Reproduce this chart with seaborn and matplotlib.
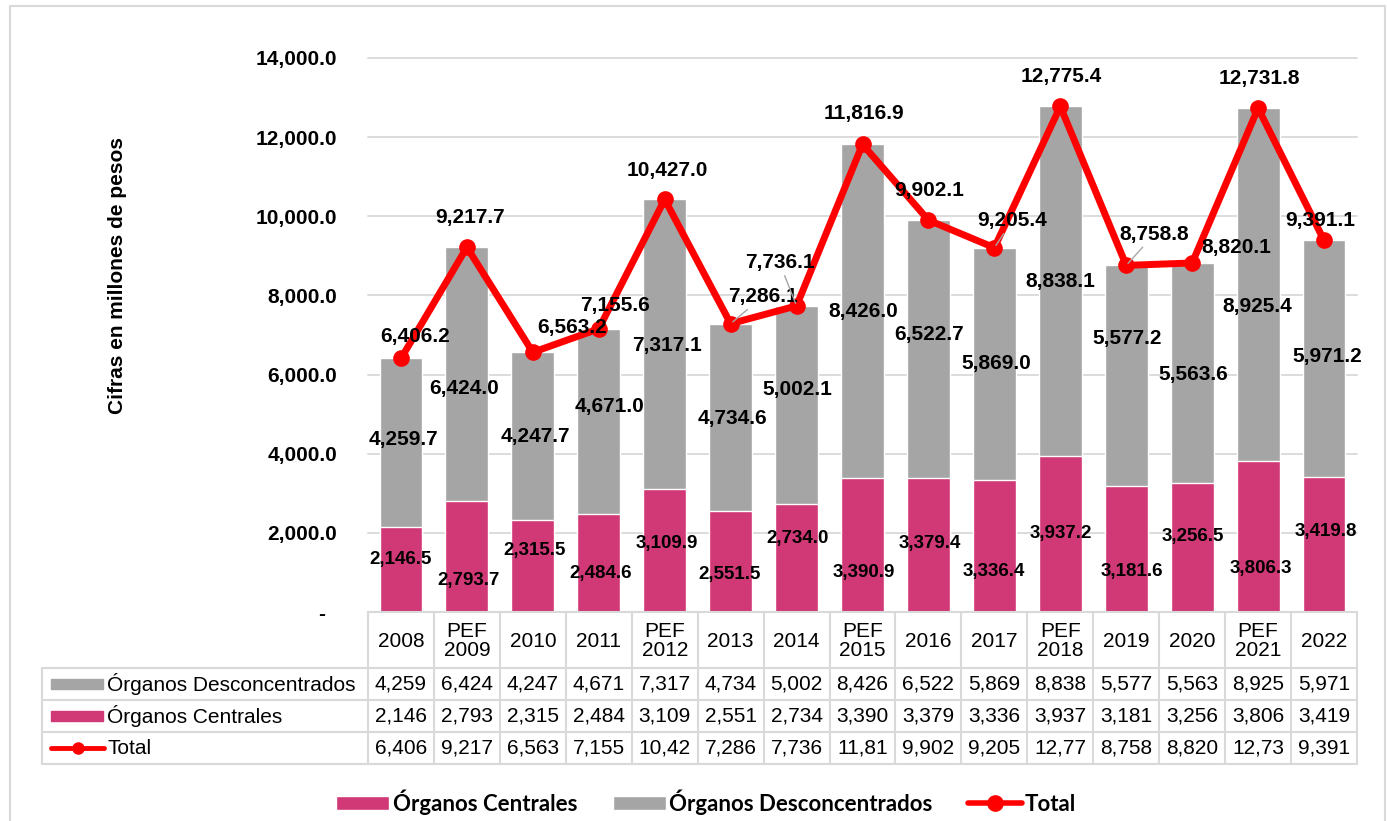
import numpy as np
import pandas as pd
import matplotlib
matplotlib.use("Agg")
import matplotlib.pyplot as plt
import seaborn as sns
from matplotlib.patches import Patch, Rectangle
from matplotlib.lines import Line2D

# data
categories = ["2008", "PEF\n2009", "2010", "2011", "PEF\n2012", "2013", "2014", "PEF\n2015",
              "2016", "2017", "PEF\n2018", "2019", "2020", "PEF\n2021", "2022"]
centrales = [2146.5, 2793.7, 2315.5, 2484.6, 3109.9, 2551.5, 2734.0, 3390.9,
             3379.4, 3336.4, 3937.2, 3181.6, 3256.5, 3806.3, 3419.8]
desconcentrados = [4259.7, 6424.0, 4247.7, 4671.0, 7317.1, 4734.6, 5002.1, 8426.0,
                   6522.7, 5869.0, 8838.1, 5577.2, 5563.6, 8925.4, 5971.2]
total = [6406.2, 9217.7, 6563.2, 7155.6, 10427.0, 7286.1, 7736.1, 11816.9,
         9902.1, 9205.4, 12775.4, 8758.8, 8820.1, 12731.8, 9391.1]
yticks = [0, 2000, 4000, 6000, 8000, 10000, 12000, 14000]

# label nudges in pixels (dx, dy), imitating Excel's placement
pink_off = [(0, 10), (2, -24), (2, 16), (2, -11), (2, 7), (-1, -13), (1, 19), (1, -28),
            (1, 2), (-1, -26), (1, 1), (6, -22), (1, 11), (3, -32), (2, 13)]
gray_off = [(2, 3), (-3, -14), (3, 0), (11, 15), (2, -1), (2, -1), (1, 15), (1, 0),
            (1, 15), (2, 0), (0, 0), (1, 37), (1, -1), (-1, -22), (3, 2)]
tot_off = [(14, 22), (3, 30), (39, 25), (16, 23), (3, 29), (32, 27), (-17, 43), (1, 31),
           (1, 30), (18, 27), (1, 30), (28, 31), (44, 15), (1, 30), (-4, 20)]
leader = [False, False, False, False, False, True, True, False,
          False, True, False, True, False, False, False]

PINK = "#D13876"
GRAY = "#A5A5A5"
RED = "#FF0000"
GRID = "#D9D9D9"

sns.set_style("white")
plt.rcParams["font.family"] = ["Liberation Sans", "DejaVu Sans"]
plt.rcParams["text.color"] = "black"
plt.rcParams["ytick.labelcolor"] = "black"

W, H = 1387, 821
fig = plt.figure(figsize=(W / 100, H / 100), dpi=100)

# outer chart frame
fig.add_artist(Rectangle((10 / W, -0.02), (1385 - 10) / W, 1.02 - 6 / H, transform=fig.transFigure,
                         fill=False, edgecolor=GRID, lw=1.5))

ax = fig.add_axes([368 / W, (H - 612) / H, (1357 - 368) / W, (612 - 58) / H])

df = pd.DataFrame({"cat": categories, "cen": centrales, "des": desconcentrados})
df["stack"] = df["cen"] + df["des"]
pos = np.arange(len(categories))

sns.barplot(data=df, x="cat", y="stack", color=GRAY, width=0.65, saturation=1,
            errorbar=None, ax=ax, zorder=2)
sns.barplot(data=df, x="cat", y="cen", color=PINK, width=0.65, saturation=1,
            errorbar=None, ax=ax, zorder=3)
sns.lineplot(x=pos, y=total, color=RED, lw=5, marker="o", markersize=12,
             markeredgewidth=0, ax=ax, zorder=4, legend=False)

ax.set_xlim(-0.5, len(categories) - 0.5)
ax.set_ylim(0, 14000)
ax.set_yticks(yticks)
ax.set_yticklabels(["-  " if v == 0 else f"{v:,.1f}" for v in yticks],
                   fontsize=15, fontweight="bold", color="black")
ax.tick_params(axis="y", length=0, pad=22)
ax.set_xticks([])
ax.set_xlabel("")
ax.set_ylabel("")
for s in ax.spines.values():
    s.set_visible(False)
for v in yticks[1:]:
    ax.axhline(v, color=GRID, lw=1.3, zorder=1, clip_on=False)

# data labels
for i in range(len(categories)):
    ax.annotate(f"{centrales[i]:,.1f}", xy=(i, centrales[i] / 2), xytext=pink_off[i],
                textcoords="offset pixels", ha="center", va="center",
                fontsize=13.5, fontweight="bold", color="black", zorder=6)
    ax.annotate(f"{desconcentrados[i]:,.1f}", xy=(i, centrales[i] + desconcentrados[i] / 2),
                xytext=gray_off[i], textcoords="offset pixels", ha="center", va="center",
                fontsize=15, fontweight="bold", color="black", zorder=6)
    arrow = dict(arrowstyle="-", color="#A6A6A6", lw=1, shrinkA=0, shrinkB=2) if leader[i] else None
    ax.annotate(f"{total[i]:,.1f}", xy=(i, total[i]), xytext=tot_off[i],
                textcoords="offset pixels", ha="center", va="center",
                fontsize=15, fontweight="bold", color="black", zorder=6, arrowprops=arrow,
                annotation_clip=False)

fig.text(118 / W, 1 - 275 / H, "Cifras en millones de pesos", rotation=90,
         ha="center", va="center", fontsize=15, fontweight="bold", color="black")

# data table under the chart
tab = fig.add_axes([42 / W, (H - 764) / H, (1357 - 42) / W, (764 - 612) / H])
colw = (1357 - 368) / len(categories)
x_left = -0.5 - (368 - 42) / colw
tab.set_xlim(x_left, len(categories) - 0.5)
tab.set_ylim(152, 0)
tab.axis("off")


def px(p):
    return x_left + p / colw


n = len(categories)
tab.plot([-0.5, n - 0.5], [0, 0], color=GRID, lw=1.5, clip_on=False)
for yb in [56, 88, 120, 152]:
    tab.plot([x_left, n - 0.5], [yb, yb], color=GRID, lw=1.5, clip_on=False)
for k in range(n + 1):
    tab.plot([k - 0.5, k - 0.5], [0, 152], color=GRID, lw=1.5, clip_on=False)
tab.plot([x_left, x_left], [56, 152], color=GRID, lw=1.5, clip_on=False)


def cell(v):
    s = f"{int(v):,}"
    return s[:5]


rows = [desconcentrados, centrales, total]
row_y = [72, 104, 136]
for i, c in enumerate(categories):
    tab.text(i, 29, c, ha="center", va="center", fontsize=15, linespacing=1.0)
    for vals, yy in zip(rows, row_y):
        tab.text(i, yy, cell(vals[i]), ha="center", va="center", fontsize=15)

tab.add_patch(Rectangle((px(9), 72 - 5), px(61) - px(9), 10, color=GRAY, clip_on=False))
tab.add_patch(Rectangle((px(9), 104 - 5), px(61) - px(9), 10, color=PINK, clip_on=False))
tab.plot([px(9), px(62)], [136, 136], color=RED, lw=3.5, clip_on=False)
tab.plot([px(35.5)], [136], "o", color=RED, ms=8, clip_on=False)
for lab, yy in zip(["Órganos Desconcentrados", "Órganos Centrales", "Total"], row_y):
    tab.text(px(65), yy, lab, ha="left", va="center", fontsize=15)

# legend at the bottom
handles = [Patch(facecolor=PINK), Patch(facecolor=GRAY),
           Line2D([], [], color=RED, lw=4, marker="o", ms=11)]
fig.legend(handles, ["Órganos Centrales", "Órganos Desconcentrados", "Total"],
           loc="center", bbox_to_anchor=(706 / W, 1 - 802 / H), ncol=3, frameon=False,
           prop={"family": "Lato", "weight": "bold", "size": 16},
           handlelength=2.4, handleheight=0.6, handletextpad=0.15, columnspacing=1.6)

fig.savefig("out.png", dpi=100)
